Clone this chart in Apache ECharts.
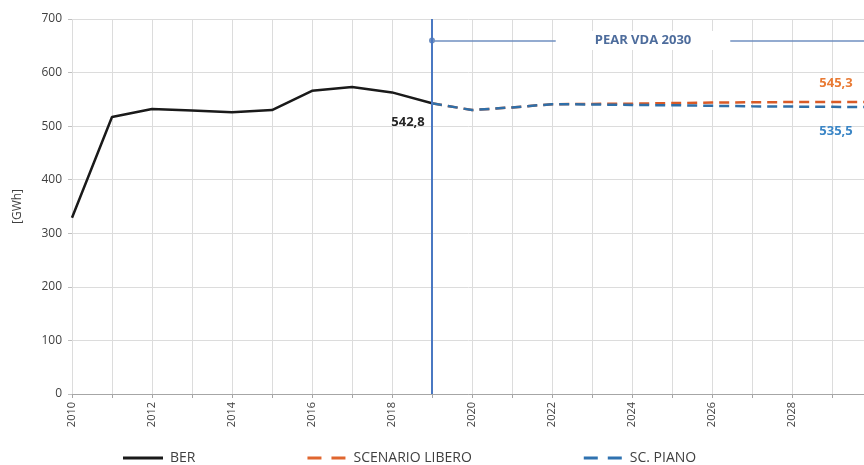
<!DOCTYPE html>
<html>
<head>
<meta charset="utf-8">
<script src="https://cdn.jsdelivr.net/npm/echarts@6/dist/echarts.min.js"></script>
<style>
  html, body { margin: 0; padding: 0; background: #fff; }
  #main { width: 864px; height: 465px; }
</style>
</head>
<body>
<div id="main"></div>
<script>
// anni
var years = ['2010','2011','2012','2013','2014','2015','2016','2017','2018','2019','2020',
             '2021','2022','2023','2024','2025','2026','2027','2028','2029','2030']
// consumi storici BER [GWh]
var berData = [329, 517, 532, 529, 526, 530, 566, 573, 563, 542.8,
               null, null, null, null, null, null, null, null, null, null, null]
// scenario libero
var liberoData = [null, null, null, null, null, null, null, null, null, 542.8,
                  530, 535, 541, 541.5, 542, 543, 544, 544.5, 545, 545.2, 545.3]
// scenario di piano
var pianoData = [null, null, null, null, null, null, null, null, null, 542.8,
                 530, 535, 541, 540.5, 539.5, 539, 538, 537, 536.5, 536, 535.5]
var yTicks = [0, 100, 200, 300, 400, 500, 600, 700]
// orizzonte del piano
var pearStart = '2019'
var pearEnd = '2030'
var pearMid = '2024'
var pearLevel = 660

var font = 'Open Sans'
var myChart = echarts.init(document.getElementById('main'))

// icone legenda: linea piena e due trattini
var iconSolid = 'path://M0,0h40v3h-40z'
var iconDash = 'path://M0,0h14v3h-14z M24,0h14v3h-14z'

function fmt (v) {
    return String(v).replace('.', ',')
}

// etichetta di un singolo valore (markPoint invisibile)
function valueLabel (year, value, color, offset) {
    return {
        coord: [year, value],
        symbol: 'circle',
        symbolSize: 0,
        label: {
            show: true,
            formatter: fmt(value),
            color: color,
            fontSize: 13,
            fontWeight: 'bold',
            fontFamily: font,
            offset: offset
        }
    }
}

var last = years.length - 1

var option = {
    animation: false,
    textStyle: { fontFamily: font },
    grid: { left: 72, top: 19, width: 800, bottom: 71, outerBoundsMode: 'none' },
    legend: {
        left: 118,
        top: 446,
        itemGap: 112,
        itemWidth: 40,
        itemHeight: 3,
        textStyle: { fontSize: 14, color: '#404040', fontFamily: font, padding: [0, 0, 0, 2] },
        data: [
            { name: 'BER', icon: iconSolid },
            { name: 'SCENARIO LIBERO', icon: iconDash },
            { name: 'SC. PIANO', icon: iconDash }
        ]
    },
    xAxis: {
        type: 'category',
        data: years,
        boundaryGap: false,
        axisLine: { lineStyle: { color: '#a6a6a6' } },
        axisTick: { show: true, interval: 0, length: 4, lineStyle: { color: '#a6a6a6' } },
        axisLabel: { interval: 1, rotate: 90, color: '#404040', fontSize: 11, margin: 8 },
        splitLine: { show: true, interval: 0, lineStyle: { color: '#dcdcdc' } }
    },
    yAxis: {
        type: 'value',
        min: yTicks[0],
        max: yTicks[yTicks.length - 1],
        interval: 100,
        name: '[GWh]',
        nameLocation: 'middle',
        nameGap: 48,
        nameTextStyle: { fontSize: 12, color: '#404040' },
        axisLine: { show: false },
        axisTick: { show: true, length: 4, lineStyle: { color: '#bfbfbf' } },
        axisLabel: { color: '#404040', fontSize: 12, margin: 10 },
        splitLine: { lineStyle: { color: '#dcdcdc' } }
    },
    series: [
        {
            name: 'SCENARIO LIBERO',
            type: 'line',
            data: liberoData,
            showSymbol: false,
            symbol: 'none',
            lineStyle: { color: '#d85a27', width: 2.5, type: [10, 6] },
            itemStyle: { color: '#e0662f' },
            z: 2,
            markPoint: {
                silent: true,
                animation: false,
                data: [valueLabel(years[last], liberoData[last], '#e97b35', [-36, -19])]
            }
        },
        {
            name: 'SC. PIANO',
            type: 'line',
            data: pianoData,
            showSymbol: false,
            symbol: 'none',
            lineStyle: { color: '#2f6fa8', width: 2.5, type: [10, 6] },
            itemStyle: { color: '#2f72b0' },
            z: 3,
            markPoint: {
                silent: true,
                animation: false,
                data: [valueLabel(years[last], pianoData[last], '#3b86c6', [-36, 24])]
            },
            markLine: {
                silent: true,
                animation: false,
                label: { show: false },
                data: [
                    [
                        {
                            coord: [pearStart, pearLevel],
                            symbol: 'circle',
                            symbolSize: 6,
                            lineStyle: { color: '#6f8fc0', width: 1.5, type: 'solid' }
                        },
                        { coord: [pearEnd, pearLevel], symbol: 'circle', symbolSize: 6 }
                    ],
                    [
                        {
                            coord: [pearStart, yTicks[yTicks.length - 1]],
                            symbol: 'none',
                            lineStyle: { color: '#4a78c2', width: 2, type: 'solid' }
                        },
                        { coord: [pearStart, yTicks[0]], symbol: 'none' }
                    ]
                ]
            }
        },
        {
            name: 'BER',
            type: 'line',
            data: berData,
            showSymbol: false,
            symbol: 'none',
            lineStyle: { color: '#1a1a1a', width: 2.5 },
            itemStyle: { color: '#1a1a1a' },
            z: 4,
            markPoint: {
                silent: true,
                animation: false,
                data: [
                    valueLabel(years[9], berData[9], '#262626', [-24, 19]),
                    {
                        coord: [pearMid, pearLevel],
                        symbol: 'circle',
                        symbolSize: 0,
                        label: {
                            show: true,
                            formatter: 'PEAR VDA 2030',
                            color: '#4d6c9c',
                            fontSize: 13,
                            fontWeight: 'bold',
                            fontFamily: font,
                            backgroundColor: '#fff',
                            padding: [3, 39],
                            offset: [11, 0]
                        }
                    }
                ]
            }
        }
    ]
}

myChart.setOption(option)
window.onresize = myChart.resize
</script>
</body>
</html>
